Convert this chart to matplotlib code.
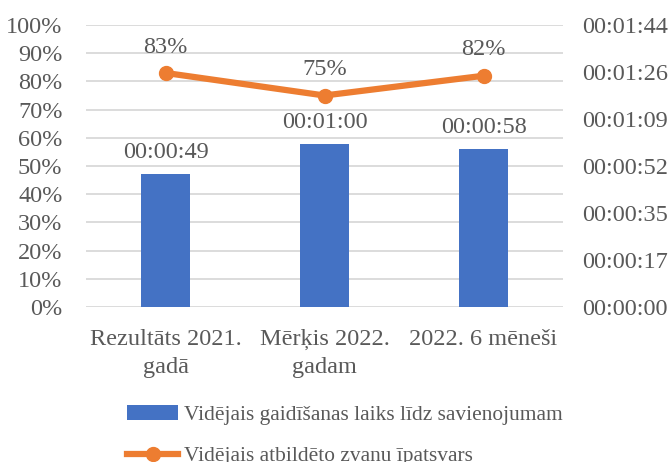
import matplotlib
matplotlib.use("Agg")
import matplotlib.pyplot as plt
import numpy as np
from matplotlib.ticker import FuncFormatter, FixedLocator

plt.rcParams['font.family'] = ['Liberation Serif', 'DejaVu Serif']

categories = ["Rezultāts 2021.\ngadā", "Mērķis 2022.\ngadam", "2022. 6 mēneši"]
wait_seconds = [49, 60, 58]
answered_pct = [0.83, 0.75, 0.82]
bar_name = "Vidējais gaidīšanas laiks līdz savienojumam"
line_name = "Vidējais atbildēto zvanu īpatsvars"
time_max = 0.0012 * 86400  # seconds (Excel axis max 0.0012 days)
time_step = 0.0002 * 86400

BLUE = "#4472C4"
ORANGE = "#ED7D31"
TXT = "#595959"
GRID = "#D9D9D9"
FS = 17.5

def hms(s, pos=None):
    s = int(round(s))
    return f"{s // 3600:02d}:{(s % 3600) // 60:02d}:{s % 60:02d}"

fig = plt.figure(figsize=(6.71, 4.62), dpi=100)
ax = fig.add_axes([86/671, 1-307/462, 477/671, 282/462])
ax2 = ax.twinx()
ax3 = ax.twinx()

x = np.arange(len(categories))

# base axis: percent, grid
ax.set_ylim(0, 1)
ax.set_yticks(np.linspace(0, 1, 11))
ax.yaxis.set_major_formatter(FuncFormatter(lambda v, p: f"{v*100:.0f}%"))
ax.grid(axis='y', color=GRID, linewidth=1.3)
ax.set_axisbelow(True)
ax.set_xlim(-0.5, len(categories) - 0.5)
ax.set_xticks(x)
ax.set_xticklabels(categories, fontsize=FS, color=TXT, linespacing=1.4,
                   multialignment='center')
ax.tick_params(axis='both', length=0, labelsize=FS, labelcolor=TXT)
ax.tick_params(axis='y', pad=17)
ax.tick_params(axis='x', pad=16)

# time axis with bars
ax2.set_ylim(0, time_max)
ax2.yaxis.set_major_locator(FixedLocator(np.arange(0, time_max + 1e-6, time_step)))
ax2.yaxis.set_major_formatter(FuncFormatter(hms))
ax2.tick_params(axis='y', length=0, labelsize=FS, labelcolor=TXT, pad=14)
bars = ax2.bar(x, wait_seconds, width=0.31, color=BLUE, label=bar_name)
for xi, v in zip(x, wait_seconds):
    ax2.annotate(hms(v), (xi, v), xytext=(0, 8), textcoords='offset points',
                 ha='center', va='bottom', fontsize=FS, color=TXT)

# percent line on top
ax3.set_ylim(0, 1)
ax3.set_yticks([])
line, = ax3.plot(x, answered_pct, color=ORANGE, linewidth=4.5, marker='o',
                 markersize=10, label=line_name)
for xi, v in zip(x, answered_pct):
    ax3.annotate(f"{v*100:.0f}%", (xi, v), xytext=(0, 11), textcoords='offset points',
                 ha='center', va='bottom', fontsize=FS, color=TXT)

for a in (ax, ax2, ax3):
    for s in a.spines.values():
        s.set_visible(False)
ax2.patch.set_visible(False)
ax3.patch.set_visible(False)

fig.legend([bars, line], [bar_name, line_name], loc='upper left',
           bbox_to_anchor=(127/671, 1-405/462), frameon=False, fontsize=15.4,
           labelcolor=TXT, handlelength=2.4, handletextpad=0.25, labelspacing=1.0,
           borderaxespad=0, borderpad=0)

fig.savefig("out.png", dpi=100)
